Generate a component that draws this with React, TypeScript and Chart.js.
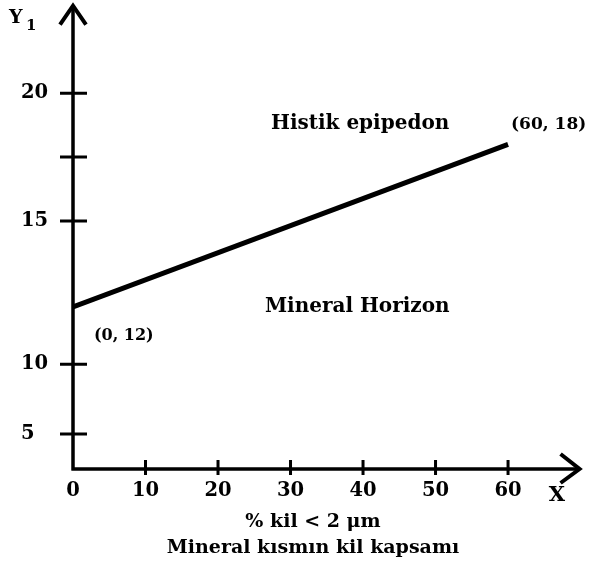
import React, { useEffect, useRef } from 'react';
import { Chart, registerables, LinearScale } from 'chart.js';

Chart.register(...registerables);

// ---- data ----
const xTickValues = [0, 10, 20, 30, 40, 50, 60];
const yTickValues = [5, 10, 15, 17.5, 20];
const yTickLabels = ['5', '10', '15', '', '20'];
const lineX = [0, 60];
const lineY = [12, 18];
const pointLabels = ['(0, 12)', '(60, 18)'];
const regionLabels = ['Histik epipedon', 'Mineral Horizon'];
const regionX = [39.6, 39.2];
const regionY = [18.8, 12.0];
const xTitle = ['% kil < 2 \u03bcm', 'Mineral k\u0131sm\u0131n kil kapsam\u0131'];
const xAxisName = 'X';
const yAxisName = 'Y';
const yAxisSub = '1';

// ---- the drawn y axis is not evenly spaced: piecewise linear scale ----
const KNOT_V = [5, 10, 15, 20];
const KNOT_U = [0, 70, 213.3, 341.3];
function fwd(v: number): number {
  const n = KNOT_V.length;
  if (v <= KNOT_V[0]) return KNOT_U[0] + (v - KNOT_V[0]) * (KNOT_U[1] - KNOT_U[0]) / (KNOT_V[1] - KNOT_V[0]);
  for (let i = 1; i < n; i++) {
    if (v <= KNOT_V[i]) {
      const t = (v - KNOT_V[i - 1]) / (KNOT_V[i] - KNOT_V[i - 1]);
      return KNOT_U[i - 1] + t * (KNOT_U[i] - KNOT_U[i - 1]);
    }
  }
  return KNOT_U[n - 1] + (v - KNOT_V[n - 1]) * (KNOT_U[n - 1] - KNOT_U[n - 2]) / (KNOT_V[n - 1] - KNOT_V[n - 2]);
}
function inv(u: number): number {
  const n = KNOT_U.length;
  if (u <= KNOT_U[0]) return KNOT_V[0] + (u - KNOT_U[0]) * (KNOT_V[1] - KNOT_V[0]) / (KNOT_U[1] - KNOT_U[0]);
  for (let i = 1; i < n; i++) {
    if (u <= KNOT_U[i]) {
      const t = (u - KNOT_U[i - 1]) / (KNOT_U[i] - KNOT_U[i - 1]);
      return KNOT_V[i - 1] + t * (KNOT_V[i] - KNOT_V[i - 1]);
    }
  }
  return KNOT_V[n - 1] + (u - KNOT_U[n - 1]) * (KNOT_V[n - 1] - KNOT_V[n - 2]) / (KNOT_U[n - 1] - KNOT_U[n - 2]);
}

class BrokenScale extends LinearScale {
  static id = 'broken';
  static defaults = LinearScale.defaults;
  getPixelForValue(value: number) {
    if (value === null || value === undefined || isNaN(value)) return NaN;
    const a = fwd(this.min);
    const b = fwd(this.max);
    return this.getPixelForDecimal((fwd(value) - a) / (b - a));
  }
  getValueForPixel(pixel: number) {
    const a = fwd(this.min);
    const b = fwd(this.max);
    return inv(a + this.getDecimalForPixel(pixel) * (b - a));
  }
}
Chart.register(BrokenScale as any);

const FONT = '"DejaVu Serif", serif';
const X_ARROW = 70;
const Y_ARROW = 23.46;

const drawPlugin = {
  id: 'schematic',
  afterDraw(chart: any) {
    const { ctx, chartArea } = chart;
    const xs = chart.scales.x;
    const ys = chart.scales.y;
    const x0 = chartArea.left;
    const y0 = chartArea.bottom;
    const yTip = ys.getPixelForValue(Y_ARROW);
    const xTip = xs.getPixelForValue(X_ARROW);
    ctx.save();
    ctx.strokeStyle = '#000';
    ctx.fillStyle = '#000';
    ctx.lineCap = 'butt';
    ctx.lineJoin = 'miter';
    // axes
    ctx.lineWidth = 3.5;
    ctx.beginPath();
    ctx.moveTo(x0, y0 + 1.5);
    ctx.lineTo(x0, yTip + 2);
    ctx.moveTo(x0 - 1.5, y0);
    ctx.lineTo(xTip - 2, y0);
    ctx.stroke();
    // arrows
    ctx.lineWidth = 4;
    ctx.beginPath();
    ctx.moveTo(x0 - 13, yTip + 20);
    ctx.lineTo(x0, yTip + 1);
    ctx.lineTo(x0 + 13, yTip + 20);
    ctx.moveTo(xTip - 20, y0 - 15);
    ctx.lineTo(xTip - 1, y0);
    ctx.lineTo(xTip - 20, y0 + 14);
    ctx.stroke();
    // tick marks crossing the axes
    ctx.lineWidth = 3;
    ctx.beginPath();
    ys.ticks.forEach((t: any) => {
      const py = ys.getPixelForValue(t.value);
      ctx.moveTo(x0 - 13, py);
      ctx.lineTo(x0 + 14, py);
    });
    xs.ticks.forEach((t: any) => {
      if (t.value === 0) return;
      const px = xs.getPixelForValue(t.value);
      ctx.moveTo(px, y0 - 9);
      ctx.lineTo(px, y0 + 6);
    });
    ctx.stroke();
    // axis names
    ctx.textBaseline = 'alphabetic';
    ctx.textAlign = 'left';
    ctx.font = 'bold 19px ' + FONT;
    ctx.fillText(yAxisName, 9, 23);
    ctx.font = 'bold 15px ' + FONT;
    ctx.fillText(yAxisSub, 26, 30);
    ctx.font = 'bold 21px ' + FONT;
    ctx.textAlign = 'center';
    ctx.fillText(xAxisName, 557, 501);
    // region labels
    ctx.font = 'bold 20px ' + FONT;
    ctx.textBaseline = 'middle';
    regionLabels.forEach((s, i) => {
      ctx.fillText(s, xs.getPixelForValue(regionX[i]), ys.getPixelForValue(regionY[i]));
    });
    // point labels
    ctx.textAlign = 'left';
    const offs = [[21, 29], [3, -20]];
    const sizes = [16, 17];
    pointLabels.forEach((s, i) => {
      ctx.font = 'bold ' + sizes[i] + 'px ' + FONT;
      const px = xs.getPixelForValue(lineX[i]);
      const py = ys.getPixelForValue(lineY[i]);
      ctx.fillText(s, px + offs[i][0], py + offs[i][1]);
    });
    ctx.restore();
  },
};

export default function App() {
  const ref = useRef<HTMLCanvasElement | null>(null);
  useEffect(() => {
    if (!ref.current) return;
    Chart.defaults.color = '#000';
    const chart = new Chart(ref.current, {
      type: 'line',
      data: {
        datasets: [
          {
            data: lineX.map((x, i) => ({ x, y: lineY[i] })),
            borderColor: '#000',
            borderWidth: 5,
            pointRadius: 0,
            fill: false,
            borderCapStyle: 'butt',
          },
        ],
      },
      options: {
        animation: false,
        responsive: false,
        devicePixelRatio: 1,
        layout: { padding: { top: 4, left: 21, right: 40, bottom: 0 } },
        plugins: { legend: { display: false }, tooltip: { enabled: false } },
        scales: {
          x: {
            type: 'linear',
            min: 0,
            max: 66.2,
            bounds: 'data',
            grid: { display: false, drawTicks: false },
            border: { display: false },
            afterBuildTicks: (s: any) => {
              s.ticks = xTickValues.map((v) => ({ value: v }));
            },
            afterFit: (s: any) => {
              s.height = 102;
            },
            ticks: {
              padding: 10,
              color: '#000',
              font: { family: FONT, size: 19.5, weight: 'bold' },
              callback: (v: any) => String(v),
            },
            title: {
              display: true,
              text: xTitle,
              color: '#000',
              font: { family: FONT, size: 19, weight: 'bold', lineHeight: 1.35 },
              padding: { top: 0, bottom: 10 },
            },
          },
          y: {
            type: 'broken' as any,
            min: 2.5,
            max: 23.07,
            bounds: 'data',
            grid: { display: false, drawTicks: false },
            border: { display: false },
            afterBuildTicks: (s: any) => {
              s.ticks = yTickValues.map((v) => ({ value: v }));
            },
            afterFit: (s: any) => {
              s.width = 52;
            },
            ticks: {
              crossAlign: 'far',
              color: '#000',
              font: { family: FONT, size: 19.5, weight: 'bold' },
              callback: (v: any) => {
                const i = yTickValues.indexOf(Number(v));
                return i >= 0 ? yTickLabels[i] : '';
              },
            },
          },
        },
      } as any,
      plugins: [drawPlugin],
    });
    return () => chart.destroy();
  }, []);
  return (
    <div style={{ position: 'absolute', left: 0, top: 0, width: 593, height: 571, background: '#fff' }}>
      <canvas ref={ref} width={593} height={571} />
    </div>
  );
}
